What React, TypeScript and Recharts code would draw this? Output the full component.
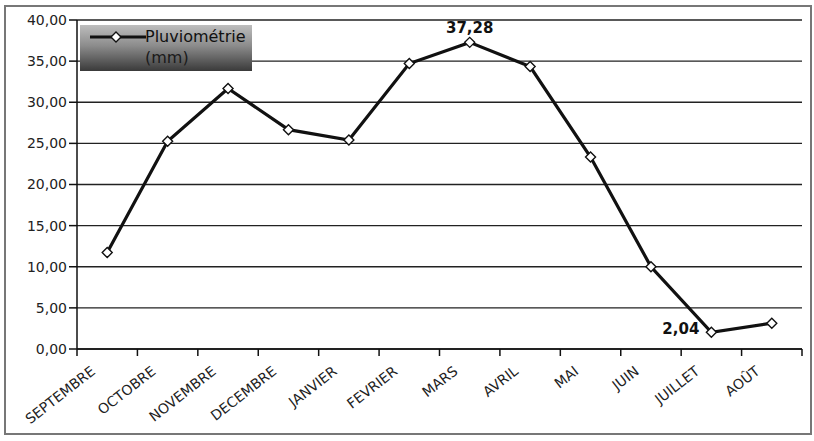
import { LineChart, Line, XAxis, YAxis, CartesianGrid, LabelList } from 'recharts'

const MONTHS = ['SEPTEMBRE', 'OCTOBRE', 'NOVEMBRE', 'DECEMBRE', 'JANVIER', 'FEVRIER', 'MARS', 'AVRIL', 'MAI', 'JUIN', 'JUILLET', 'AOÛT']
const RAINFALL = [11.72, 25.25, 31.67, 26.67, 25.4, 34.7, 37.28, 34.34, 23.34, 10.0, 2.04, 3.14]
const Y_TICKS = [0, 5, 10, 15, 20, 25, 30, 35, 40]
const LABELLED = ['MARS', 'JUILLET']

const data = MONTHS.map((month, i) => ({ month, value: RAINFALL[i] }))

const WIDTH = 814
const HEIGHT = 441
const Y_AXIS_W = 77
const RIGHT = 12
const BAND = (WIDTH - Y_AXIS_W - RIGHT) / MONTHS.length
const FONT = '"DejaVu Sans", Verdana, sans-serif'

const fmt = (v: number) => v.toFixed(2).replace('.', ',')

function MonthTick({ x, y, payload, index }: any) {
    const left = x - BAND / 2
    return (
        <g>
            <line x1={left} y1={y} x2={left} y2={y + 7} stroke="#111" strokeWidth={1.5} />
            {index === MONTHS.length - 1 && (
                <line x1={x + BAND / 2} y1={y} x2={x + BAND / 2} y2={y + 7} stroke="#111" strokeWidth={1.5} />
            )}
            <text
                transform={`translate(${x - 11},${y + 24}) rotate(-38)`}
                textAnchor="end"
                fontFamily={FONT}
                fontSize={14}
                fill="#222"
            >
                {payload.value}
            </text>
        </g>
    )
}

function Diamond({ cx, cy }: any) {
    if (cx == null || cy == null) return null
    const r = 5
    return (
        <path
            d={`M${cx},${cy - r}L${cx + r},${cy}L${cx},${cy + r}L${cx - r},${cy}Z`}
            fill="#fff"
            stroke="#111"
            strokeWidth={1.4}
        />
    )
}

function ValueLabel({ x, y, value, index }: any) {
    const month = MONTHS[index]
    if (!LABELLED.includes(month)) return null
    const above = month === 'MARS'
    return (
        <text
            x={above ? x : x - 12}
            y={above ? y - 9 : y + 2}
            textAnchor={above ? 'middle' : 'end'}
            fontFamily={FONT}
            fontSize={15}
            fontWeight="bold"
            fill="#111"
        >
            {fmt(value)}
        </text>
    )
}

// series key, laid over the top-left corner of the plot
function LegendBox() {
    return (
        <div
            style={{
                position: 'absolute',
                left: 80,
                top: 25,
                width: 172,
                height: 46,
                background: 'linear-gradient(#bdbdbd 0%, #8c8c8c 45%, #3a3a3a 100%)',
                fontFamily: FONT,
                fontSize: 16,
                lineHeight: '19px',
            }}
        >
            <svg width={60} height={20} style={{ position: 'absolute', left: 8, top: 2 }}>
                <line x1={2} y1={10} x2={58} y2={10} stroke="#111" strokeWidth={3} />
                <Diamond cx={28} cy={10} />
            </svg>
            <div style={{ position: 'absolute', left: 65, top: 2, color: '#111' }}>Pluviométrie</div>
            <div style={{ position: 'absolute', left: 65, top: 23, color: '#1a1a1a' }}>(mm)</div>
        </div>
    )
}

export default function App() {
    return (
        <div style={{ position: 'absolute', left: 0, top: 0, width: WIDTH, height: HEIGHT, background: '#fff' }}>
            <div
                style={{
                    position: 'absolute',
                    left: 4,
                    top: 5,
                    width: 804,
                    height: 426,
                    border: '2px solid #777',
                }}
            />
            <LineChart
                width={WIDTH}
                height={HEIGHT}
                data={data}
                margin={{ top: 20, right: RIGHT, bottom: 0, left: 0 }}
            >
                <CartesianGrid vertical={false} stroke="#222" strokeWidth={1.3} />
                <XAxis
                    dataKey="month"
                    interval={0}
                    height={92}
                    padding={{ left: BAND / 2, right: BAND / 2 }}
                    tickLine={false}
                    tickSize={0}
                    tickMargin={0}
                    axisLine={{ stroke: '#111', strokeWidth: 1.5 }}
                    tick={<MonthTick />}
                />
                <YAxis
                    domain={[0, 40]}
                    ticks={Y_TICKS}
                    width={Y_AXIS_W}
                    tickSize={8}
                    tickMargin={2}
                    tickFormatter={fmt}
                    axisLine={{ stroke: '#111', strokeWidth: 1.5 }}
                    tickLine={{ stroke: '#111', strokeWidth: 1.5 }}
                    tick={{ fill: '#222', fontSize: 14, fontFamily: FONT }}
                />
                <YAxis
                    yAxisId="frame"
                    orientation="right"
                    width={0}
                    tick={false}
                    tickLine={false}
                    axisLine={{ stroke: '#111', strokeWidth: 1.5 }}
                />
                <Line
                    type="linear"
                    dataKey="value"
                    name="Pluviométrie (mm)"
                    stroke="#111"
                    strokeWidth={3.2}
                    dot={<Diamond />}
                    activeDot={false}
                    isAnimationActive={false}
                >
                    <LabelList dataKey="value" content={<ValueLabel />} />
                </Line>
            </LineChart>
            <LegendBox />
        </div>
    )
}
